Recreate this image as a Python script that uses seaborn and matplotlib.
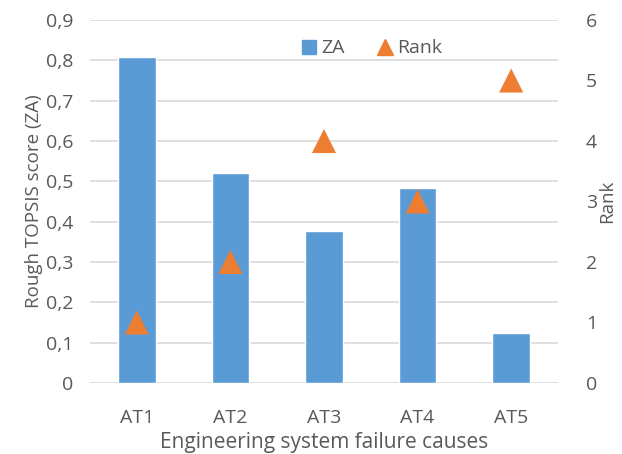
import matplotlib
matplotlib.use("Agg")
import matplotlib.pyplot as plt
import pandas as pd
import seaborn as sns
from matplotlib.lines import Line2D

# data
causes = ["AT1", "AT2", "AT3", "AT4", "AT5"]
za_scores = [0.809, 0.520, 0.376, 0.483, 0.124]
ranks = [1, 2, 4, 3, 5]
left_ticks = [0, 0.1, 0.2, 0.3, 0.4, 0.5, 0.6, 0.7, 0.8, 0.9]
right_ticks = [0, 1, 2, 3, 4, 5, 6]

bar_color = "#5B9BD5"
tri_color = "#ED7D31"
text_color = "#595959"
grid_color = "#D9D9D9"

sns.set_style("white")
plt.rcParams["font.family"] = ["Open Sans", "DejaVu Sans"]

df = pd.DataFrame({"cause": causes, "ZA": za_scores, "Rank": ranks})

fig = plt.figure(figsize=(6.22, 4.54), dpi=100)
ax = fig.add_axes([90 / 622, 1 - 383 / 454, 468 / 622, 363 / 454])

sns.barplot(data=df, x="cause", y="ZA", color=bar_color, width=0.4,
            saturation=1, ax=ax, zorder=3)
ax.set_ylim(0, 0.9)
ax.set_xlim(-0.5, 4.5)
ax.set_yticks(left_ticks)
ax.set_yticklabels([("%g" % t).replace(".", ",") for t in left_ticks])
ax.yaxis.grid(True, color=grid_color, linewidth=1.2, zorder=0)
ax.set_axisbelow(True)
for s in ax.spines.values():
    s.set_visible(False)
ax.tick_params(axis="both", length=0, labelsize=14, colors=text_color)
ax.tick_params(axis="x", pad=19)
ax.tick_params(axis="y", pad=12)
ax.set_xlabel("Engineering system failure causes", fontsize=15,
              color=text_color, va="top")
ax.xaxis.set_label_coords(0.5, -0.135)
ax.set_ylabel("Rough TOPSIS score (ZA)", fontsize=13.5, color=text_color,
              labelpad=2)

ax2 = ax.twinx()
sns.scatterplot(data=df, x="cause", y="Rank", marker="^", s=300,
                color=tri_color, edgecolor="none", ax=ax2, zorder=4)
ax2.set_ylim(0, 6)
ax2.set_yticks(right_ticks)
ax2.set_yticklabels([str(t) for t in right_ticks])
for s in ax2.spines.values():
    s.set_visible(False)
ax2.tick_params(axis="y", length=0, labelsize=14, colors=text_color, pad=20)
ax2.set_ylabel("Rank", fontsize=13.5, color=text_color, labelpad=1)

handles = [
    Line2D([], [], marker="s", linestyle="none", color=bar_color, markersize=10),
    Line2D([], [], marker="^", linestyle="none", color=tri_color, markersize=11),
]
leg = ax2.legend(handles, ["ZA", "Rank"], loc="upper center",
                 bbox_to_anchor=(0.6, 0.995), ncol=2, frameon=False,
                 fontsize=14, handletextpad=0.1, columnspacing=1.6,
                 handlelength=1.0)
for t in leg.get_texts():
    t.set_color(text_color)

fig.savefig("out.png", dpi=100)
